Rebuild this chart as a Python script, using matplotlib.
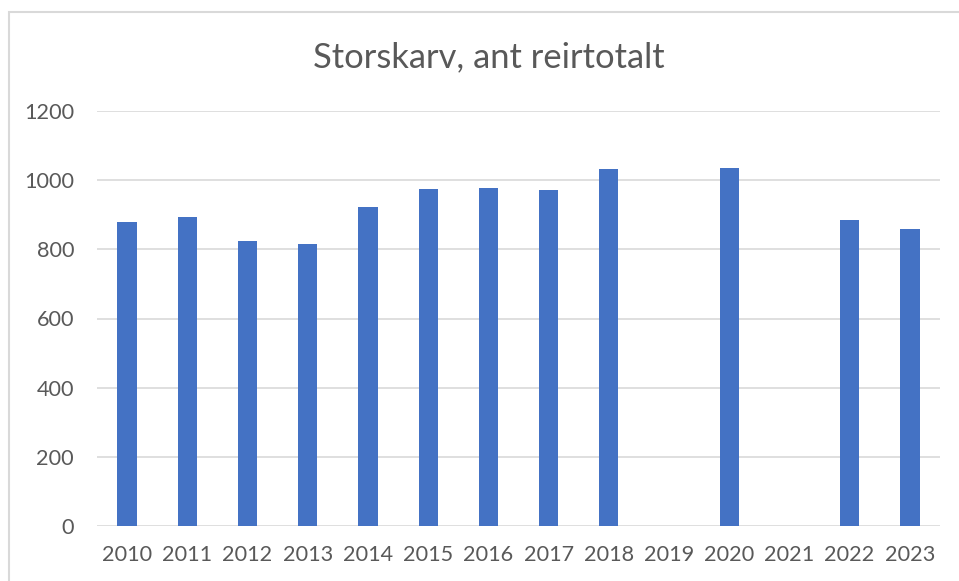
import matplotlib
matplotlib.use("Agg")
from matplotlib import pyplot as plt
from matplotlib.patches import Rectangle

years = ["2010", "2011", "2012", "2013", "2014", "2015", "2016",
         "2017", "2018", "2019", "2020", "2021", "2022", "2023"]
nests = [878, 893, 823, 814, 921, 975, 978, 971, 1033, 0, 1034, 0, 884, 858]
y_ticks = [0, 200, 400, 600, 800, 1000, 1200]

BAR_COLOR = "#4472C4"
TEXT_COLOR = "#595959"
GRID_COLOR = "#D9D9D9"

plt.rcParams["font.family"] = ["Lato", "DejaVu Sans"]

W, H = 959, 581
fig = plt.figure(figsize=(W / 100, H / 100), dpi=100)

# chart border (left/top only visible, rest runs off the picture)
fig.patches.append(Rectangle((9 / W, -0.1), 1.2, (H - 12) / H + 0.1,
                             transform=fig.transFigure, fill=False,
                             edgecolor=GRID_COLOR, linewidth=1.5))

ax = fig.add_axes([97 / W, (H - 526) / H, (940 - 97) / W, (526 - 111) / H])
x = range(len(years))
ax.bar(x, nests, width=0.32, color=BAR_COLOR, zorder=3)
ax.set_xlim(-0.5, len(years) - 0.5)
ax.set_ylim(0, 1200)
ax.set_yticks(y_ticks)
ax.set_xticks(list(x))
ax.set_xticklabels(years)
ax.grid(axis="y", color=GRID_COLOR, linewidth=1.2, zorder=0)
for s in ax.spines.values():
    s.set_visible(False)
ax.tick_params(length=0, labelsize=15.6, colors=TEXT_COLOR)
ax.tick_params(axis="y", pad=16.5)
ax.tick_params(axis="x", pad=14)

fig.text(489 / W, 1 - 57 / H, "Storskarv, ant reirtotalt",
         ha="center", va="center", fontsize=24.8, color=TEXT_COLOR)

fig.savefig("out.png", dpi=100)
